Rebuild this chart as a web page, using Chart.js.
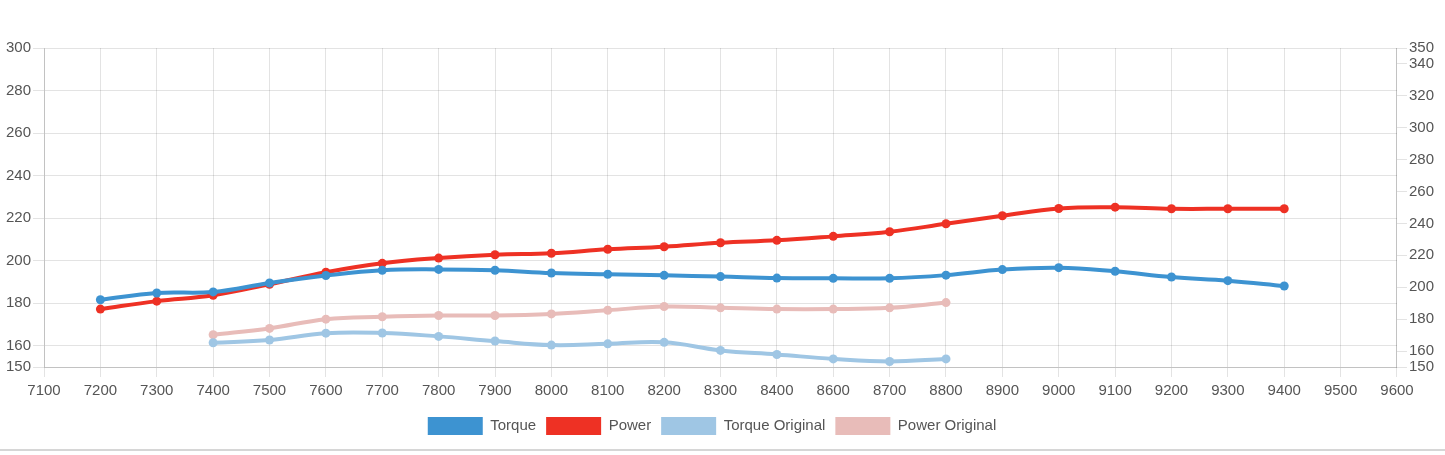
<!DOCTYPE html>
<html>
<head>
<meta charset="utf-8">
<script src="https://cdn.jsdelivr.net/npm/chart.js@4.4.1/dist/chart.umd.min.js"></script>
<style>
  html, body { margin: 0; padding: 0; background: #fff; }
  .wrap { width: 1445px; height: 449px; border-bottom: 2px solid #d6d6d6; position: relative; }
</style>
</head>
<body>
<div class="wrap"><canvas id="dyno"></canvas></div>
<script>
// rpm labels (note: 8500 absent in source)
const RPM = ['7100', '7200', '7300', '7400', '7500', '7600', '7700', '7800', '7900', '8000', '8100', '8200',
    '8300', '8400', '8600', '8700', '8800', '8900', '9000', '9100', '9200', '9300', '9400', '9500', '9600'];

const TORQUE = [null, 181.6, 184.8, 185.3, 189.5, 193.0, 195.5, 195.9, 195.5, 194.2, 193.6, 193.1,
    192.5, 191.8, 191.7, 191.7, 193.2, 195.8, 196.7, 195.0, 192.3, 190.6, 188.1, null, null];
const POWER = [null, 186.3, 191.3, 195.0, 201.9, 209.4, 215.0, 218.3, 220.4, 221.3, 223.8, 225.4,
    227.9, 229.4, 231.9, 234.8, 239.8, 244.8, 249.4, 250.2, 249.2, 249.2, 249.2, null, null];
const TORQUE_ORIG = [null, null, null, 161.4, 162.7, 165.9, 166.0, 164.4, 162.2, 160.3, 160.9, 161.6,
    157.8, 155.9, 153.8, 152.6, 153.8, null, null, null, null, null, null, null, null];
const POWER_ORIG = [null, null, null, 170.2, 174.2, 180.0, 181.5, 182.3, 182.3, 183.3, 185.6, 187.9,
    187.1, 186.3, 186.3, 187.1, 190.4, null, null, null, null, null, null, null, null];

// axis ticks as shown (min/max plus every 20)
const LEFT_TICKS = [150, 160, 180, 200, 220, 240, 260, 280, 300];
const RIGHT_TICKS = [150, 160, 180, 200, 220, 240, 260, 280, 300, 320, 340, 350];

const C_TORQUE = '#3d93d1';
const C_POWER = '#ee3124';
const C_TORQUE_O = '#9fc6e4';
const C_POWER_O = '#e8bcb9';

const FONT = { family: '"Liberation Sans", Arial, Helvetica, sans-serif', size: 15 };
const GRID = 'rgba(0,0,0,0.11)';

function ds(label, data, color, axis) {
    return {
        label: label, data: data, yAxisID: axis,
        borderColor: color, backgroundColor: color,
        borderWidth: 4, pointRadius: 4.5, pointHoverRadius: 5,
        pointBackgroundColor: color, pointBorderColor: color, pointBorderWidth: 0,
        tension: 0.4, fill: false, spanGaps: false,
    };
}

function fixTicks(list) {
    return (scale) => { scale.ticks = list.map(v => ({ value: v })); };
}

// legend in the source sits a touch left of centre
const legendNudge = {
    id: 'legendNudge',
    afterLayout(chart) {
        if (!chart.legend) return;
        chart.legend.left -= 8;
        chart.legend.right -= 8;
    },
};

new Chart(document.getElementById('dyno'), {
    type: 'line',
    data: {
        labels: RPM,
        datasets: [
            ds('Torque', TORQUE, C_TORQUE, 'yL'),
            ds('Power', POWER, C_POWER, 'yR'),
            ds('Torque Original', TORQUE_ORIG, C_TORQUE_O, 'yL'),
            ds('Power Original', POWER_ORIG, C_POWER_O, 'yR'),
        ],
    },
    plugins: [legendNudge],
    options: {
        responsive: true,
        maintainAspectRatio: false,
        animation: false,
        layout: { padding: { top: 48, left: 4, right: 9, bottom: 4 } },
        plugins: {
            legend: {
                position: 'bottom',
                labels: {
                    boxWidth: 55, boxHeight: 18, color: '#555', font: FONT, padding: 10,
                    generateLabels: (chart) => Chart.defaults.plugins.legend.labels.generateLabels(chart)
                        .map(l => Object.assign(l, { lineWidth: 0 })),
                },
            },
        },
        scales: {
            x: {
                grid: { color: GRID, tickLength: 10 },
                border: { color: 'rgba(0,0,0,0.15)' },
                ticks: { color: '#555', font: FONT, maxRotation: 0, autoSkip: false, padding: 5 },
                afterFit: (s) => { s.height += 2; },
            },
            yL: {
                position: 'left', min: LEFT_TICKS[0], max: LEFT_TICKS[LEFT_TICKS.length - 1],
                grid: { color: GRID, tickLength: 11 },
                border: { color: 'rgba(0,0,0,0.15)' },
                ticks: { color: '#555', font: FONT, padding: 2 },
                afterBuildTicks: fixTicks(LEFT_TICKS),
            },
            yR: {
                position: 'right', min: RIGHT_TICKS[0], max: RIGHT_TICKS[RIGHT_TICKS.length - 1],
                grid: { drawOnChartArea: false, color: GRID, tickLength: 10 },
                border: { color: 'rgba(0,0,0,0.15)' },
                ticks: { color: '#555', font: FONT, padding: 2 },
                afterBuildTicks: fixTicks(RIGHT_TICKS),
            },
        },
    },
});
</script>
</body>
</html>
